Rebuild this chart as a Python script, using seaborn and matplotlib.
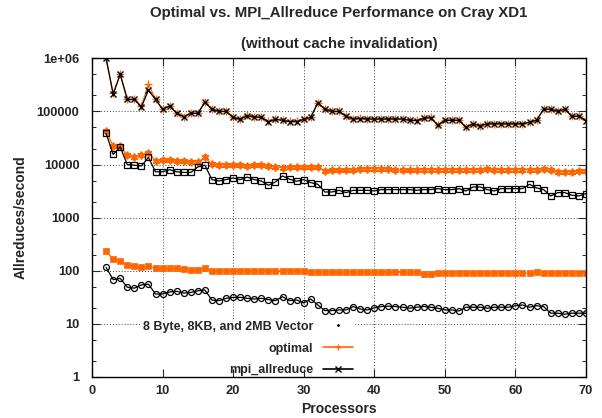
import numpy as np
import pandas as pd
import seaborn as sns
import matplotlib.pyplot as plt
from matplotlib.lines import Line2D
from matplotlib.ticker import FixedLocator, LogLocator, NullFormatter

procs = list(range(2, 71))

# 8 Byte vector
opt_8b = [1.0e6, 2.2e5, 5.0e5, 1.7e5, 1.7e5, 1.25e5, 3.3e5, 1.7e5, 1.1e5, 1.28e5,
          9.3e4, 8.0e4, 9.3e4, 9.3e4, 1.5e5, 1.1e5, 1.0e5, 1.0e5, 7.8e4, 7.2e4,
          8.4e4, 8.0e4, 7.8e4, 6.5e4, 7.2e4, 6.9e4, 6.5e4, 6.6e4, 7.2e4, 7.8e4,
          1.46e5, 1.1e5, 1.0e5, 1.0e5, 8.2e4, 7.3e4, 7.4e4, 7.3e4, 7.3e4, 7.3e4,
          7.3e4, 7.3e4, 7.3e4, 6.9e4, 6.8e4, 7.5e4, 7.7e4, 5.6e4, 6.9e4, 6.9e4,
          6.9e4, 5.1e4, 5.9e4, 5.4e4, 5.9e4, 5.9e4, 5.9e4, 5.9e4, 5.9e4, 5.9e4,
          6.3e4, 6.9e4, 1.1e5, 1.1e5, 1.0e5, 1.1e5, 8.2e4, 8.2e4, 6.8e4]
mpi_8b = [1.0e6, 2.1e5, 5.0e5, 1.68e5, 1.68e5, 1.22e5, 2.5e5, 1.68e5, 1.1e5, 1.26e5,
          9.2e4, 7.9e4, 9.2e4, 9.2e4, 1.48e5, 1.1e5, 1.0e5, 1.0e5, 7.7e4, 7.1e4,
          8.3e4, 7.9e4, 7.7e4, 6.4e4, 7.1e4, 6.8e4, 6.4e4, 6.4e4, 7.1e4, 7.7e4,
          1.45e5, 1.1e5, 1.0e5, 1.0e5, 8.1e4, 7.2e4, 7.3e4, 7.2e4, 7.2e4, 7.2e4,
          7.2e4, 7.2e4, 7.2e4, 6.8e4, 6.7e4, 7.4e4, 7.6e4, 5.5e4, 6.8e4, 6.8e4,
          6.8e4, 5.0e4, 5.85e4, 5.3e4, 5.85e4, 5.85e4, 5.85e4, 5.85e4, 5.85e4, 5.85e4,
          6.2e4, 6.8e4, 1.1e5, 1.1e5, 1.0e5, 1.1e5, 8.1e4, 8.1e4, 6.7e4]

# 8KB vector
opt_8kb = [4.3e4, 2.2e4, 2.2e4, 1.5e4, 1.39e4, 1.5e4, 1.68e4, 1.17e4, 1.2e4, 1.2e4,
           1.17e4, 1.15e4, 1.12e4, 1.12e4, 1.36e4, 1.01e4, 9.7e3, 1.0e4, 9.7e3, 9.7e3,
           9.4e3, 9.7e3, 9.7e3, 9.3e3, 9.0e3, 8.75e3, 9.0e3, 9.0e3, 9.0e3, 9.0e3,
           9.0e3, 7.55e3, 7.8e3, 7.8e3, 7.8e3, 8.0e3, 8.1e3, 8.4e3, 8.4e3, 8.4e3,
           8.1e3, 7.8e3, 7.8e3, 7.8e3, 8.0e3, 8.0e3, 8.0e3, 8.0e3, 8.0e3, 8.0e3,
           8.0e3, 8.0e3, 8.0e3, 8.0e3, 8.1e3, 8.0e3, 8.0e3, 8.0e3, 8.0e3, 8.0e3,
           8.0e3, 8.0e3, 8.4e3, 8.0e3, 7.3e3, 7.3e3, 7.3e3, 7.5e3, 7.55e3]
mpi_8kb = [3.85e4, 1.55e4, 2.15e4, 1.0e4, 9.7e3, 9.4e3, 1.36e4, 7.3e3, 7.3e3, 8.0e3,
           7.3e3, 7.1e3, 7.1e3, 9.0e3, 9.7e3, 5.2e3, 4.9e3, 5.2e3, 5.6e3, 5.2e3,
           5.8e3, 5.2e3, 4.9e3, 4.07e3, 4.7e3, 6.1e3, 5.3e3, 4.84e3, 5.2e3, 4.57e3,
           4.25e3, 3.04e3, 3.04e3, 3.27e3, 2.96e3, 3.27e3, 3.27e3, 3.27e3, 3.18e3, 3.37e3,
           3.37e3, 3.37e3, 3.37e3, 3.37e3, 3.27e3, 3.37e3, 3.37e3, 3.52e3, 3.37e3, 3.37e3,
           3.52e3, 3.18e3, 3.78e3, 3.78e3, 3.37e3, 3.18e3, 3.52e3, 3.52e3, 3.52e3, 3.52e3,
           4.25e3, 3.63e3, 3.37e3, 2.56e3, 2.96e3, 2.96e3, 2.64e3, 2.56e3, 2.84e3]

# 2MB vector
opt_2mb = [231, 166, 150, 128, 121, 116, 121, 111, 111, 111,
           111, 108, 104, 104, 111, 100, 100, 100, 100, 97.5,
           100, 97.5, 100, 100, 100, 100, 100, 100, 97.5, 93,
           93, 93, 93, 93, 93, 93, 93, 93, 93, 93,
           93, 93, 93, 93, 93, 87, 87, 90.5, 90.5, 90.5,
           90.5, 90.5, 90.5, 90.5, 90.5, 90.5, 90.5, 90.5, 90.5, 90.5,
           90.5, 96, 90.5, 90.5, 90.5, 90.5, 90.5, 90.5, 90.5]
mpi_2mb = [116, 68, 72, 49, 47, 54, 56, 36.5, 36.5, 40,
           41, 38, 39, 42, 43.5, 28, 27.4, 30.3, 31.6, 31.6,
           30.3, 29.4, 30.3, 28.6, 27.4, 32.5, 27.4, 28.2, 24.8, 29.4,
           22.7, 17.8, 17.8, 18.3, 18.3, 21.2, 19.1, 18.3, 20.0, 21.2,
           21.5, 21.2, 20.6, 19.7, 20.6, 21.2, 20.6, 19.7, 18.3, 18.3,
           17.5, 20.6, 20.6, 20.6, 19.7, 20.6, 20.6, 20.6, 22, 22.7,
           20.6, 22, 21.2, 15.9, 15.9, 15.2, 15.9, 15.9, 15.9]

ytick_vals = [1, 10, 100, 1000, 10000, 100000, 1000000]
ytick_labels = ["1", "10", "100", "1000", "10000", "100000", "1e+06"]
xtick_vals = [0, 10, 20, 30, 40, 50, 60, 70]

sns.set_style("ticks")
plt.rcParams["font.family"] = ["Liberation Sans", "DejaVu Sans"]
plt.rcParams["font.weight"] = "bold"

orange = "#ff6600"

fig = plt.figure(figsize=(6.02, 4.18), dpi=100)
ax = fig.add_axes([0.1528, 0.0981, 0.8206, 0.7624])

styles = [
    (opt_8b, orange, dict(marker="+", markersize=5.5, markeredgewidth=1.0)),
    (mpi_8b, "black", dict(marker="x", markersize=4.5, markeredgewidth=1.0)),
    (opt_8kb, orange, dict(marker=(6, 2, 0), markersize=5.5, markeredgewidth=1.3)),
    (mpi_8kb, "black", dict(marker="s", markersize=4.8, markerfacecolor="none",
                            markeredgewidth=0.9)),
    (opt_2mb, orange, dict(marker="s", markersize=4.8, markeredgewidth=0.5)),
    (mpi_2mb, "black", dict(marker="o", markersize=4.3, markerfacecolor="none",
                            markeredgewidth=0.9)),
]
for vals, col, kw in styles:
    sns.lineplot(x=procs, y=vals, ax=ax, color=col, markeredgecolor=col,
                 linewidth=0.9, zorder=3, **kw)

ax.set_yscale("log")
ax.set_ylim(1, 1e6)
ax.set_xlim(0, 70)
ax.yaxis.set_major_locator(FixedLocator(ytick_vals))
ax.set_yticklabels(ytick_labels)
ax.yaxis.set_minor_locator(LogLocator(base=10, subs=(2, 5)))
ax.yaxis.set_minor_formatter(NullFormatter())
ax.set_xticks(xtick_vals)
ax.set_xticklabels([str(v) for v in xtick_vals])

ax.tick_params(which="major", direction="in", top=True, right=True, length=6,
               width=0.8, labelsize=9.3)
ax.tick_params(axis="y", which="major", pad=9)
ax.tick_params(axis="x", which="major", pad=6)
ax.tick_params(which="minor", direction="in", right=True, length=3, width=0.7)
for sp in ax.spines.values():
    sp.set_linewidth(1.0)
    sp.set_color("black")
    sp.set_zorder(6)
ax.set_axisbelow(False)

# dotted gnuplot style grid, kept underneath the legend box
for yv in ytick_vals[1:-1]:
    ax.axhline(yv, color="#444444", linestyle=(0, (1, 2)), linewidth=0.7, zorder=0.5)
for xv in xtick_vals[1:-1]:
    ax.axvline(xv, color="#444444", linestyle=(0, (1, 2)), linewidth=0.7, zorder=0.5)
ax.set_xlabel("")
ax.set_ylabel("")

handles = [
    Line2D([], [], linestyle="none", marker=".", color="black", markersize=2),
    Line2D([], [], color=orange, marker="+", markersize=5, linewidth=1.2),
    Line2D([], [], color="black", marker="x", markersize=4, linewidth=1.2),
]
labels = ["8 Byte, 8KB, and 2MB Vector", "optimal", "mpi_allreduce"]
leg = ax.legend(handles, labels, loc="lower right", bbox_to_anchor=(0.53, 0.0),
                markerfirst=False, frameon=True, framealpha=1, edgecolor="white",
                facecolor="white", fancybox=False, handlelength=2.4,
                handletextpad=0.8, labelspacing=0.78, borderaxespad=0.0,
                borderpad=0.05, prop={"size": 9, "weight": "bold"})
leg.set_zorder(2)

fig.text(0.563, 0.969, "Optimal vs. MPI_Allreduce Performance on Cray XD1",
         ha="center", va="center", fontsize=10.8, fontweight="bold")
fig.text(0.563, 0.895, "(without cache invalidation)",
         ha="center", va="center", fontsize=10.8, fontweight="bold")
fig.text(0.034, 0.48, "Allreduces/second", rotation=90,
         ha="center", va="center", fontsize=10, fontweight="bold")
fig.text(0.563, 0.022, "Processors", ha="center", va="center",
         fontsize=10, fontweight="bold")

fig.savefig("out.png", dpi=100)
